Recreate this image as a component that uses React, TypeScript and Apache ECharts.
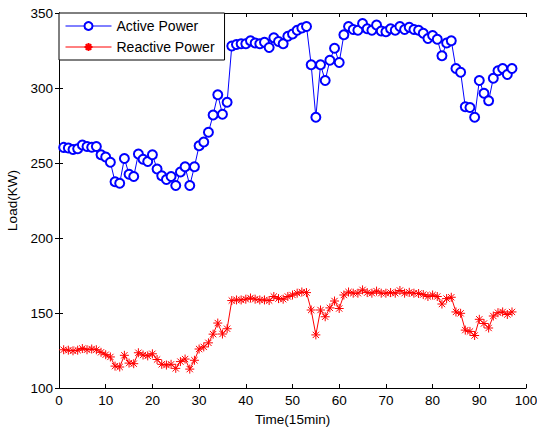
import React, { useEffect, useRef } from "react";
import * as echarts from "echarts";

const timeSteps: number[] = Array.from({ length: 97 }, (_, i) => i + 1);

const activePower: number[] = [
  260.4, 260, 259, 259.5, 262, 261, 260.5, 261, 255.5, 254,
  250.5, 237.5, 236.5, 253, 242.5, 241, 256, 252.5, 251, 255.5,
  246, 241.5, 239, 241, 235, 244, 247.5, 235, 247.5, 261.5,
  264, 270.5, 282, 295.5, 282.5, 290.5, 328, 329, 329.5, 329.5,
  331.5, 330, 329.5, 330.5, 327, 333.5, 331, 329.5, 334.5, 336,
  338.5, 340, 341, 315.5, 280.5, 315.5, 305, 318.5, 326.5, 317,
  335.5, 341, 339, 338.5, 343, 339.5, 338.5, 342, 338, 337.5,
  339.5, 338.5, 341, 339, 340.5, 339, 338.5, 336.5, 333, 335,
  332.5, 321.5, 330, 331.5, 313, 310.5, 287.5, 287, 280.5, 305,
  296.5, 291.5, 306.5, 311.5, 313, 309, 313,
];

const reactivePower: number[] = [
  125.5, 125.2, 124.8, 125.2, 126.3, 125.5, 126, 125.5, 123.8, 122.2,
  120.7, 114.6, 114, 121.8, 116.6, 116.2, 123.5, 122, 121.4, 122.8,
  119, 115.8, 115.3, 115.8, 113.1, 117.6, 119.3, 112.6, 118.5, 126,
  127.4, 130.1, 135.9, 143.3, 136, 139.5, 158.3, 158.7, 158.7, 159.2,
  160, 159.2, 158.7, 158.7, 158.3, 161, 159.6, 159.2, 161, 162,
  163.2, 164, 163.6, 152, 135.4, 152, 147.5, 153.4, 158, 153,
  162, 164, 163.2, 163.2, 165.4, 163.6, 163.2, 164.6, 163.2, 163.2,
  163.6, 163.2, 165, 163.2, 163.8, 163.2, 163, 162.3, 161, 162,
  161, 156, 159.6, 160.5, 150.7, 149.8, 138.6, 137.7, 135, 145.8,
  143, 140, 148, 150.2, 150.7, 149, 150.7,
];

const seriesNames: string[] = ["Active Power", "Reactive Power"];
const xAxisName = "Time(15min)";
const yAxisName = "Load(KW)";

const FONT = "Liberation Sans, Arial, sans-serif";
const ASTERISK =
  "path://M0,-5L0,5M-5,0L5,0M-3.5,-3.5L3.5,3.5M-3.5,3.5L3.5,-3.5";

export default function App() {
  const ref = useRef<HTMLDivElement>(null);

  useEffect(() => {
    if (!ref.current) return;
    const chart = echarts.init(ref.current, null, { renderer: "svg" });

    const axisLine = { show: true, lineStyle: { color: "#000", width: 1 } };
    const tickIn = { show: true, inside: true, length: 4, lineStyle: { color: "#000" } };

    chart.setOption({
      animation: false,
      backgroundColor: "#fff",
      textStyle: { fontFamily: FONT },
      grid: {
        left: 59,
        top: 13,
        width: 467,
        height: 375,
        containLabel: false,
        outerBoundsMode: "none",
      },
      legend: {
        orient: "vertical",
        left: 59,
        top: 13,
        padding: [6, 10, 6, 6],
        itemGap: 7,
        itemWidth: 46,
        itemHeight: 10,
        borderColor: "#000",
        borderWidth: 1,
        backgroundColor: "#fff",
        lineStyle: { width: 1 },
        textStyle: { fontSize: 14, color: "#000", fontFamily: FONT },
        data: seriesNames,
      },
      xAxis: [
        {
          type: "value",
          min: 0,
          max: 100,
          interval: 10,
          position: "bottom",
          name: xAxisName,
          nameLocation: "middle",
          nameGap: 24,
          nameTextStyle: { fontSize: 13.5, color: "#000", fontFamily: FONT },
          axisLine,
          axisTick: tickIn,
          axisLabel: { color: "#000", fontSize: 13.5, margin: 5, fontFamily: FONT },
          splitLine: { show: false },
        },
        {
          type: "value",
          min: 0,
          max: 100,
          interval: 10,
          position: "top",
          axisLine,
          axisTick: tickIn,
          axisLabel: { show: false },
          splitLine: { show: false },
        },
      ],
      yAxis: [
        {
          type: "value",
          min: 100,
          max: 350,
          interval: 50,
          position: "left",
          name: yAxisName,
          nameLocation: "middle",
          nameGap: 33,
          nameTextStyle: { fontSize: 13.5, color: "#000", fontFamily: FONT },
          axisLine,
          axisTick: tickIn,
          axisLabel: { color: "#000", fontSize: 13.5, margin: 6, fontFamily: FONT },
          splitLine: { show: false },
        },
        {
          type: "value",
          min: 100,
          max: 350,
          interval: 50,
          position: "right",
          axisLine,
          axisTick: tickIn,
          axisLabel: { show: false },
          splitLine: { show: false },
        },
      ],
      series: [
        {
          name: seriesNames[0],
          type: "line",
          data: timeSteps.map((t, i) => [t, activePower[i]]),
          symbol: "emptyCircle",
          symbolSize: 9,
          showAllSymbol: true,
          color: "#0000ff",
          lineStyle: { color: "#0000ff", width: 1 },
          itemStyle: { color: "#0000ff", borderColor: "#0000ff", borderWidth: 1 },
        },
        {
          name: seriesNames[1],
          type: "line",
          data: timeSteps.map((t, i) => [t, reactivePower[i]]),
          symbol: ASTERISK,
          symbolSize: 9,
          showAllSymbol: true,
          color: "#ff0000",
          lineStyle: { color: "#ff0000", width: 1 },
          itemStyle: { color: "#ff0000", borderColor: "#ff0000", borderWidth: 1 },
        },
      ],
    });

    return () => chart.dispose();
  }, []);

  return (
    <div
      ref={ref}
      style={{ position: "absolute", left: 0, top: 0, width: 537, height: 428 }}
    />
  );
}
